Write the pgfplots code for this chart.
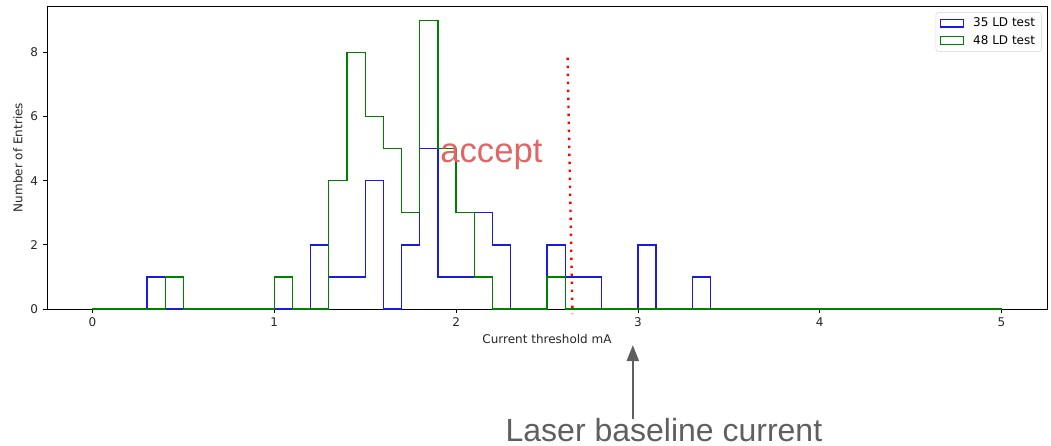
\documentclass[border=0pt]{standalone}
\usepackage{fontspec}
\setmainfont{DejaVu Sans}
\newfontfamily\slidefont{Liberation Sans}
\usepackage{pgfplots}
\usepackage{pgfplotstable}
\pgfplotsset{compat=1.18}
\usetikzlibrary{arrows.meta}

\definecolor{acceptred}{HTML}{E06666}
\definecolor{notegray}{HTML}{5F5F5F}
\definecolor{mplgreen}{HTML}{008000}
\definecolor{histblue}{HTML}{1A1AE6}
\definecolor{legendedge}{HTML}{D6D6D6}

% Bin left edges (width 0.1 mA) and counts for the two test batches
\pgfplotstableread{
x    b  g
0.0  0  0
0.1  0  0
0.2  0  0
0.3  1  0
0.4  0  1
0.5  0  0
0.6  0  0
0.7  0  0
0.8  0  0
0.9  0  0
1.0  0  1
1.1  0  0
1.2  2  0
1.3  1  4
1.4  1  8
1.5  4  6
1.6  0  5
1.7  2  3
1.8  5  9
1.9  1  5
2.0  1  3
2.1  3  1
2.2  2  0
2.3  0  0
2.4  0  0
2.5  2  1
2.6  1  0
2.7  1  0
2.8  0  0
2.9  0  0
3.0  2  0
3.1  0  0
3.2  0  0
3.3  1  0
3.4  0  0
3.5  0  0
3.6  0  0
3.7  0  0
3.8  0  0
3.9  0  0
4.0  0  0
4.1  0  0
4.2  0  0
4.3  0  0
4.4  0  0
4.5  0  0
4.6  0  0
4.7  0  0
4.8  0  0
4.9  0  0
5.0  0  0
}\histdata

\pgfplotsset{
  patchlegend/.style={
    legend image code/.code={
      \draw[##1, sharp corners, line width=0.9pt] (0cm,-0.1cm) rectangle (0.6cm,0.1cm);
    }
  }
}

\begin{document}
\begin{tikzpicture}
\begin{axis}[
  scale only axis,
  width=750pt, height=227.25pt,
  xmin=-0.25, xmax=5.25,
  ymin=0, ymax=9.45,
  xtick={0,1,2,3,4,5},
  ytick={0,2,4,6,8},
  xtick pos=left, ytick pos=left,
  tick align=outside,
  major tick length=3.2pt,
  tick style={black, line width=0.6pt},
  axis line style={line width=0.7pt},
  every tick label/.append style={font=\fontsize{9}{11}\selectfont, text=black!85},
  /pgf/number format/assume math mode=true,
  xlabel={Current threshold mA},
  ylabel={Number of Entries},
  label style={font=\fontsize{9}{11}\selectfont, text=black!85},
  xlabel style={at={(axis description cs:0.5,-0.099)}, anchor=center},
  ylabel style={at={(axis description cs:-0.029,0.5)}, anchor=center},
  legend style={
    at={(rel axis cs:0.995,0.98)}, anchor=north east,
    draw=legendedge, rounded corners=2pt,
    font=\fontsize{9}{11}\selectfont,
    inner xsep=3pt, inner ysep=2pt,
    row sep=1pt, column sep=5pt,
  },
  legend cell align=left,
  clip=false,
]
\addplot[const plot mark left, histblue, line width=1pt, patchlegend] table[x=x, y=b] {\histdata};
\addlegendentry{35 LD test}
\addplot[const plot mark left, mplgreen, line width=1pt, patchlegend] table[x=x, y=g] {\histdata};
\addlegendentry{48 LD test}

% threshold marker and slide annotations
\draw[red, line width=1.8pt, line cap=butt, dash pattern=on 1.8pt off 4.2pt]
  (axis cs:2.613,7.84) -- (axis cs:2.640,-0.16);
\node[anchor=base west, inner sep=0pt, text=acceptred,
  font=\slidefont\fontsize{26}{30}\selectfont] at (axis cs:1.912,4.56) {accept};
\draw[notegray, line width=1.6pt, -{Triangle[length=12pt,width=9pt]}]
  (axis cs:2.972,-3.44) -- (axis cs:2.972,-1.125);
\node[anchor=base west, inner sep=0pt, text=notegray,
  font=\slidefont\fontsize{24}{28}\selectfont] at (axis cs:2.271,-4.125) {Laser baseline current};

\coordinate (bbsw) at (rel axis cs:-0.047,-0.452);
\coordinate (bbne) at (rel axis cs:1.004,1.0198);
\end{axis}
\pgfresetboundingbox
\path[use as bounding box] (bbsw) rectangle (bbne);
\end{tikzpicture}
\end{document}
